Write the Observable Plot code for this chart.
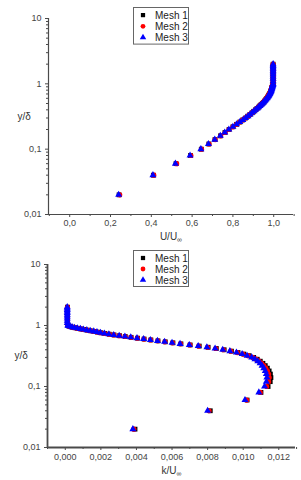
<!DOCTYPE html>
<html>
<head>
<meta charset="utf-8">
<script src="https://cdn.jsdelivr.net/npm/d3@7"></script>
<script src="https://cdn.jsdelivr.net/npm/@observablehq/plot@0.6"></script>
<style>
  html, body { margin: 0; padding: 0; background: #fff; }
  #wrap { position: relative; width: 301px; height: 480px; overflow: hidden; font-family: "Liberation Sans", Arial, sans-serif; }
  #wrap > svg { position: absolute; left: 0; }
</style>
</head>
<body>
<div id="wrap"></div>
<script>
// ---------------- data ----------------
const seriesNames = ["Mesh 1", "Mesh 2", "Mesh 3"];
const seriesColors = ["#000000", "#ff0000", "#0000ff"];
const seriesSymbols = ["square", "circle", "triangle"];

const yDelta = [0.02,0.04,0.06,0.08,0.10,0.12,0.14,0.16,0.18,0.20,
  0.22,0.24,0.26,0.28,0.30,0.32,0.34,0.36,0.38,0.40,
  0.42,0.44,0.46,0.48,0.50,0.52,0.54,0.56,0.58,0.60,
  0.62,0.64,0.66,0.68,0.70,0.72,0.74,0.76,0.78,0.80,
  0.82,0.84,0.86,0.88,0.90,0.92,0.94,0.96,0.98,1.00,
  1.1,1.2,1.3,1.4,1.5,1.6,1.7,1.8,1.9,2.0];

// U/U_inf
const uMesh1 = [0.242,0.410,0.521,0.592,0.645,0.682,0.712,0.739,0.761,0.781,
  0.800,0.818,0.834,0.848,0.862,0.873,0.884,0.894,0.902,0.911,
  0.918,0.926,0.932,0.938,0.944,0.949,0.954,0.958,0.962,0.966,
  0.969,0.972,0.975,0.977,0.980,0.982,0.984,0.985,0.987,0.988,
  0.989,0.990,0.991,0.992,0.993,0.994,0.995,0.995,0.996,0.997,
  0.997,0.997,0.997,0.997,0.997,0.997,0.997,0.997,0.997,0.997];
const uMesh2 = [0.245,0.412,0.524,0.594,0.646,0.683,0.713,0.740,0.762,0.781,
  0.800,0.818,0.833,0.848,0.861,0.873,0.883,0.893,0.902,0.910,
  0.918,0.925,0.931,0.937,0.943,0.948,0.953,0.957,0.961,0.965,
  0.968,0.971,0.974,0.976,0.979,0.981,0.983,0.985,0.986,0.987,
  0.988,0.989,0.990,0.991,0.992,0.993,0.994,0.995,0.996,0.996,
  0.997,0.997,0.997,0.997,0.997,0.997,0.997,0.997,0.997,0.997];
const uMesh3 = [0.240,0.408,0.518,0.590,0.643,0.680,0.711,0.738,0.760,0.780,
  0.800,0.818,0.834,0.849,0.862,0.874,0.884,0.894,0.903,0.911,
  0.919,0.926,0.933,0.939,0.945,0.950,0.955,0.959,0.963,0.967,
  0.970,0.973,0.976,0.978,0.980,0.982,0.984,0.986,0.987,0.988,
  0.989,0.990,0.991,0.992,0.993,0.994,0.995,0.996,0.996,0.997,
  0.997,0.997,0.997,0.997,0.997,0.997,0.997,0.997,0.997,0.997];

// k/U_inf
const kMesh1 = [0.00392,0.00815,0.01022,0.01100,0.01140,0.01152,0.01156,0.01153,0.01146,0.01136,
  0.01124,0.01111,0.01096,0.01079,0.01059,0.01033,0.01004,0.00971,0.00934,0.00893,
  0.00849,0.00803,0.00753,0.00702,0.00650,0.00605,0.00562,0.00521,0.00481,0.00443,
  0.00406,0.00370,0.00337,0.00305,0.00274,0.00247,0.00222,0.00200,0.00180,0.00161,
  0.00141,0.00122,0.00103,0.00086,0.00069,0.00053,0.00039,0.00028,0.00020,0.00015,
  0.00012,0.00012,0.00012,0.00012,0.00012,0.00012,0.00012,0.00012,0.00012,0.00012];
const kMesh2 = [0.00385,0.00808,0.01020,0.01096,0.01132,0.01143,0.01146,0.01143,0.01136,0.01127,
  0.01116,0.01104,0.01090,0.01073,0.01054,0.01028,0.00999,0.00967,0.00930,0.00889,
  0.00846,0.00800,0.00750,0.00700,0.00648,0.00603,0.00560,0.00520,0.00480,0.00442,
  0.00405,0.00369,0.00336,0.00304,0.00273,0.00246,0.00221,0.00199,0.00179,0.00161,
  0.00141,0.00122,0.00103,0.00086,0.00069,0.00053,0.00039,0.00028,0.00020,0.00015,
  0.00012,0.00012,0.00012,0.00012,0.00012,0.00012,0.00012,0.00012,0.00012,0.00012];
const kMesh3 = [0.00380,0.00800,0.01010,0.01088,0.01120,0.01130,0.01133,0.01130,0.01124,0.01116,
  0.01106,0.01095,0.01082,0.01066,0.01048,0.01022,0.00994,0.00962,0.00925,0.00885,
  0.00842,0.00796,0.00747,0.00697,0.00645,0.00600,0.00558,0.00518,0.00478,0.00440,
  0.00403,0.00368,0.00335,0.00303,0.00272,0.00245,0.00220,0.00198,0.00178,0.00160,
  0.00140,0.00121,0.00102,0.00085,0.00068,0.00052,0.00038,0.00027,0.00019,0.00014,
  0.00011,0.00011,0.00011,0.00011,0.00011,0.00011,0.00011,0.00011,0.00011,0.00011];

const yTicks = [0.01, 0.1, 1, 10];
const yTickLabels = ["0,01", "0,1", "1", "10"];
const yMinorTicks = [0.02,0.03,0.04,0.05,0.06,0.07,0.08,0.09,0.2,0.3,0.4,0.5,0.6,0.7,0.8,0.9,2,3,4,5,6,7,8,9];
const uTicks = [0.0, 0.2, 0.4, 0.6, 0.8, 1.0];
const uMinorTicks = [-0.1, 0.1, 0.3, 0.5, 0.7, 0.9, 1.1];
const kTicks = [0.000, 0.002, 0.004, 0.006, 0.008, 0.010, 0.012];
const kMinorTicks = [-0.001, 0.001, 0.003, 0.005, 0.007, 0.009, 0.011, 0.013];

// ---------------- helpers ----------------
const commaFmt = (digits) => (d) => d.toFixed(digits).replace(".", ",");
const yFmt = (d) => yTickLabels[yTicks.indexOf(d)] ?? "";

function rows(values, y, i) {
  return values.map((v, j) => ({ v, y: y[j], s: seriesNames[i] }));
}

function makeChart(cfg) {
  const marks = [];
  cfg.series.forEach((vals, i) => {
    marks.push(Plot.dot(rows(vals, yDelta, i), {
      x: "v", y: "y", symbol: () => seriesSymbols[i], r: cfg.r[i],
      fill: seriesColors[i], stroke: "none"
    }));
  });
  marks.push(
    Plot.ruleX([cfg.xDomain[0]], { stroke: "#4a4a4a", strokeWidth: cfg.axisW }),
    Plot.ruleY([0.01], { stroke: "#4a4a4a", strokeWidth: cfg.axisW }),
    Plot.axisX({ ticks: cfg.xTicks, tickFormat: commaFmt(cfg.digits), tickSize: 3, tickPadding: cfg.xPad, label: null, stroke: "#4a4a4a", fill: "#444" }),
    Plot.axisX({ ticks: cfg.xMinor, tickFormat: () => "", tickSize: 2, label: null, stroke: "#4a4a4a" }),
    Plot.axisY({ ticks: yTicks, tickFormat: yFmt, tickSize: 3, tickPadding: 4, label: null, stroke: "#4a4a4a", fill: "#444" }),
    Plot.axisY({ ticks: yMinorTicks, tickFormat: () => "", tickSize: 2, label: null, stroke: "#4a4a4a" }),
    Plot.text([cfg.xLabel], { text: (d) => d, frameAnchor: "bottom", dy: cfg.xLabelDy, fontSize: 10, fill: "#333" }),
    Plot.text(["y/δ"], { text: (d) => d, frameAnchor: "left", dx: cfg.yLabelDx, fontSize: 10, fill: "#333" })
  );
  const svg = Plot.plot({
    width: 301,
    height: cfg.height,
    marginLeft: cfg.ml, marginRight: cfg.mr, marginTop: cfg.mt, marginBottom: cfg.mb,
    style: { fontFamily: '"Liberation Sans", Arial, sans-serif', fontSize: "9px", color: "#333", background: "transparent" },
    x: { domain: cfg.xDomain },
    y: { type: "log", domain: [0.01, 10] },
    marks
  });
  // subscript infinity in the x label
  d3.select(svg).selectAll("text").filter(function () { return this.textContent === cfg.xLabel; })
    .each(function () {
      const t = d3.select(this);
      const base = cfg.xLabel.replace("∞", "");
      t.text(null);
      t.append("tspan").text(base);
      t.append("tspan").attr("font-size", 7).attr("dy", 2.5).text("∞");
    });
  return svg;
}

function makeLegend(left, topPx, rowGap) {
  const w = 56, h = 3 * rowGap + 4;
  const svg = d3.create("svg").attr("width", w).attr("height", h)
    .style("position", "absolute").style("left", left + "px").style("top", topPx + "px");
  svg.append("rect").attr("x", 0.5).attr("y", 0.5).attr("width", w - 1).attr("height", h - 1)
    .attr("fill", "#fff").attr("stroke", "#666").attr("stroke-width", 1);
  const sym = { square: d3.symbolSquare, circle: d3.symbolCircle, triangle: d3.symbolTriangle };
  seriesNames.forEach((name, i) => {
    const cy = 2 + rowGap * (i + 0.5) + 0.5;
    svg.append("path").attr("transform", `translate(10,${cy})`)
      .attr("d", d3.symbol(sym[seriesSymbols[i]], 18)()).attr("fill", seriesColors[i]);
    svg.append("text").attr("x", 22).attr("y", cy).attr("dy", "0.35em")
      .attr("font-size", 10).attr("fill", "#222")
      .attr("font-family", '"Liberation Sans", Arial, sans-serif').text(name);
  });
  return svg.node();
}

const wrap = document.getElementById("wrap");

const chartU = makeChart({
  series: [uMesh1, uMesh2, uMesh3], r: [2.7, 2.6, 2.6],
  xDomain: [-0.104, 1.097], xTicks: uTicks, xMinor: uMinorTicks, digits: 1, xPad: 2,
  xLabel: "U/U∞", xLabelDy: 25, yLabelDx: -31, axisW: 1.2,
  height: 248, ml: 48, mr: 8, mt: 18, mb: 34
});
chartU.style.top = "0px";
wrap.appendChild(chartU);

const chartK = makeChart({
  series: [kMesh1, kMesh2, kMesh3], r: [2.7, 2.6, 2.6],
  xDomain: [-0.001, 0.01294], xTicks: kTicks, xMinor: kMinorTicks, digits: 3, xPad: 3,
  xLabel: "k/U∞", xLabelDy: 26, yLabelDx: -33, axisW: 1.8,
  height: 232, ml: 47, mr: 6, mt: 16, mb: 33
});
chartK.style.top = "248px";
wrap.appendChild(chartK);

wrap.appendChild(makeLegend(133, 7, 11.2));
wrap.appendChild(makeLegend(133, 250, 11));
</script>
</body>
</html>
